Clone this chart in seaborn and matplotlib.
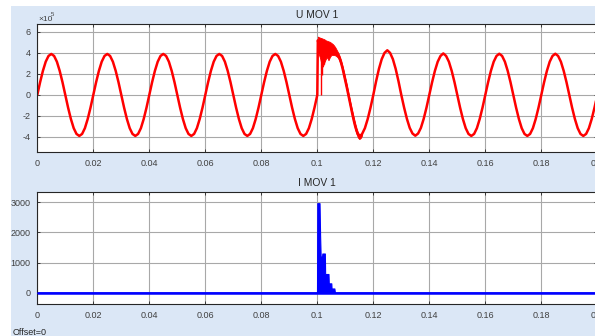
import numpy as np
import pandas as pd
import matplotlib
matplotlib.use("Agg")
import matplotlib.pyplot as plt
import seaborn as sns
from matplotlib.patches import Rectangle
from matplotlib.ticker import FormatStrFormatter

# napatie U MOV 1 (v jednotkach 1e5 V), vzorky po 1 ms pred poruchou (0 .. 0.099 s)
u_pre = [0, 1.21, 2.29, 3.16, 3.71, 3.90, 3.71, 3.16, 2.29, 1.21,
         0, -1.21, -2.29, -3.16, -3.71, -3.90, -3.71, -3.16, -2.29, -1.21,
         0, 1.21, 2.29, 3.16, 3.71, 3.90, 3.71, 3.16, 2.29, 1.21,
         0, -1.21, -2.29, -3.16, -3.71, -3.90, -3.71, -3.16, -2.29, -1.21,
         0, 1.21, 2.29, 3.16, 3.71, 3.90, 3.71, 3.16, 2.29, 1.21,
         0, -1.21, -2.29, -3.16, -3.71, -3.90, -3.71, -3.16, -2.29, -1.21,
         0, 1.21, 2.29, 3.16, 3.71, 3.90, 3.71, 3.16, 2.29, 1.21,
         0, -1.21, -2.29, -3.16, -3.71, -3.90, -3.71, -3.16, -2.29, -1.21,
         0, 1.21, 2.29, 3.16, 3.71, 3.90, 3.71, 3.16, 2.29, 1.21,
         0, -1.21, -2.29, -3.16, -3.71, -3.90, -3.71, -3.16, -2.29, -1.21]

# prechodny dej po 0.1 s
u_tr_t = [0.1000, 0.1002, 0.1005, 0.1010, 0.1015, 0.1020, 0.1025, 0.1030, 0.1035,
          0.1040, 0.1045, 0.1050, 0.1055, 0.1060, 0.1065, 0.1070, 0.1075, 0.1080,
          0.1085, 0.1090, 0.1095, 0.1100, 0.1105, 0.1110, 0.1115, 0.1120, 0.1125,
          0.1130, 0.1135, 0.1140, 0.1145, 0.1150, 0.1155, 0.1160, 0.1170]
u_tr = [0.0, 5.2, 4.8, 4.6, 4.5, 4.4, 4.3, 4.3, 4.3,
        4.3, 4.3, 4.3, 4.25, 4.2, 4.1, 3.95, 3.75, 3.45,
        3.05, 2.55, 1.95, 1.35, 0.75, 0.1, -0.55, -1.2, -1.8,
        -2.4, -2.95, -3.4, -3.75, -3.9, -3.85, -3.71, -3.16]

# obalka zasumenej casti
band_t = [0.1002, 0.1005, 0.1010, 0.1015, 0.1020, 0.1025, 0.1030, 0.1035, 0.1040,
          0.1045, 0.1050, 0.1055, 0.1060, 0.1065, 0.1070, 0.1075, 0.1080, 0.1085,
          0.1090, 0.1095, 0.1100, 0.1105, 0.1110, 0.1115, 0.1120, 0.1125, 0.1130,
          0.1135, 0.1140, 0.1145, 0.1150, 0.1155, 0.1160]
band_hi = [5.55, 5.5, 5.45, 5.4, 5.35, 5.3, 5.2, 5.15, 5.1,
           5.05, 4.95, 4.85, 4.7, 4.5, 4.25, 4.0, 3.7, 3.3,
           2.8, 2.25, 1.65, 1.05, 0.4, -0.25, -0.9, -1.5, -2.1,
           -2.65, -3.15, -3.55, -3.75, -3.7, -3.6]
band_lo = [4.2, 3.9, 3.5, 2.9, 2.7, 3.1, 3.4, 3.6, 3.3,
           3.6, 3.8, 3.8, 3.8, 3.75, 3.65, 3.5, 3.2, 2.8,
           2.3, 1.65, 1.05, 0.45, -0.2, -0.85, -1.5, -2.1, -2.7,
           -3.25, -3.7, -4.05, -4.2, -4.1, -3.85]

# spicky smerom dole
spike_t = [0.1012, 0.1018, 0.1024]
spike_lo = [0.0, 1.9, 2.9]
spike_hi = [5.4, 5.3, 5.2]

# po prechodnom deji, vzorky po 1 ms (0.118 .. 0.2 s)
u_post = [-2.29, -1.21,
          0, 1.3, 2.47, 3.4, 4.0, 4.25, 4.0, 3.4, 2.47, 1.3,
          0, -1.2, -2.27, -3.13, -3.67, -3.88, -3.67, -3.13, -2.27, -1.2,
          0, 1.21, 2.29, 3.16, 3.71, 3.95, 3.71, 3.16, 2.29, 1.21,
          0, -1.21, -2.29, -3.16, -3.71, -3.90, -3.71, -3.16, -2.29, -1.21,
          0, 1.21, 2.29, 3.16, 3.71, 3.92, 3.71, 3.16, 2.29, 1.21,
          0, -1.21, -2.29, -3.16, -3.71, -3.90, -3.71, -3.16, -2.29, -1.21,
          0, 1.21, 2.29, 3.16, 3.71, 3.92, 3.71, 3.16, 2.29, 1.21,
          0, -1.21, -2.29, -3.16, -3.71, -3.90, -3.71, -3.16, -2.29, -1.21,
          0]

# prud I MOV 1 [A]
i_t = [0.0, 0.0999, 0.1000, 0.1008, 0.1010, 0.1012, 0.1017, 0.1018, 0.1027, 0.1028,
       0.1040, 0.1041, 0.1050, 0.1051, 0.1061, 0.1063, 0.2]
i_env = [0, 0, 2970, 2970, 1900, 1200, 1200, 1300, 1300, 620,
         620, 310, 310, 140, 140, 0, 0]

U_YTICKS = [-4, -2, 0, 2, 4, 6]
I_YTICKS = [0, 1000, 2000, 3000]
X_TICKS = [0, 0.02, 0.04, 0.06, 0.08, 0.1, 0.12, 0.14, 0.16, 0.18, 0.2]

BG = "#dbe7f6"
W, H = 595, 336

sns.set_style("ticks")
plt.rcParams["font.family"] = ["Liberation Sans", "DejaVu Sans"]
plt.rcParams["axes.unicode_minus"] = False

t_pre = np.arange(len(u_pre)) * 0.001
t_post = 0.118 + np.arange(len(u_post)) * 0.001
u_df = pd.DataFrame({
    "t": np.concatenate([t_pre, u_tr_t, t_post]),
    "u": np.concatenate([u_pre, u_tr, u_post]),
})
i_df = pd.DataFrame({"t": i_t, "i": i_env})

fig = plt.figure(figsize=(W / 100, H / 100), dpi=100, facecolor="white")
fig.patches.append(Rectangle((11 / W, 0), 1, 1 - 6 / H, transform=fig.transFigure,
                             facecolor=BG, edgecolor="none", zorder=-10))

ax1 = fig.add_axes([37.3 / W, 1 - 151.7 / H, 560 / W, (151.7 - 24) / H])
ax2 = fig.add_axes([37.3 / W, 1 - 304.3 / H, 560 / W, (304.3 - 192) / H])

sns.lineplot(data=u_df, x="t", y="u", ax=ax1, color="#ff0000", lw=1.8,
             estimator=None, sort=False)
ax1.fill_between(band_t, band_lo, band_hi, color="#ff0000", lw=0.6, zorder=3)
ax1.vlines(spike_t, spike_lo, spike_hi, color="#ff0000", lw=1.0, zorder=3)
ax1.set_ylim(-5.4, 6.75)
ax1.set_yticks(U_YTICKS)
ax1.set_title("U MOV 1", fontsize=7.4, color="#262626", pad=4)

ax2.fill_between(i_df["t"], 0, i_df["i"], color="#0000ff", lw=0.8, zorder=3)
sns.lineplot(x=[0, 0.2], y=[0, 0], ax=ax2, color="#0000ff", lw=1.8,
             estimator=None, sort=False)
ax2.set_ylim(-385, 3340)
ax2.set_yticks(I_YTICKS)
ax2.set_title("I MOV 1", fontsize=7.4, color="#262626", pad=4)

for ax in (ax1, ax2):
    ax.set_facecolor("white")
    ax.set_xlim(0, 0.2)
    ax.set_xticks(X_TICKS)
    ax.xaxis.set_major_formatter(FormatStrFormatter("%g"))
    ax.set_xlabel("")
    ax.set_ylabel("")
    ax.grid(True, color="#a8a8a8", lw=0.8)
    ax.set_axisbelow(True)
    ax.tick_params(direction="in", length=2.5, width=0.6, top=True, right=True,
                   labelsize=6.5, labelcolor="#404040", color="#262626", pad=5)
    for s in ax.spines.values():
        s.set_color("#262626")
        s.set_linewidth(0.8)

fig.text(38 / W, 1 - 21 / H, "\u00d710", fontsize=6, color="#404040")
fig.text(50.5 / W, 1 - 16 / H, "5", fontsize=4.3, color="#404040")
fig.text(12.5 / W, 1 - 335 / H, "Offset=0", fontsize=6.5, color="#262626")

fig.savefig("out.png", dpi=100, facecolor="white")
